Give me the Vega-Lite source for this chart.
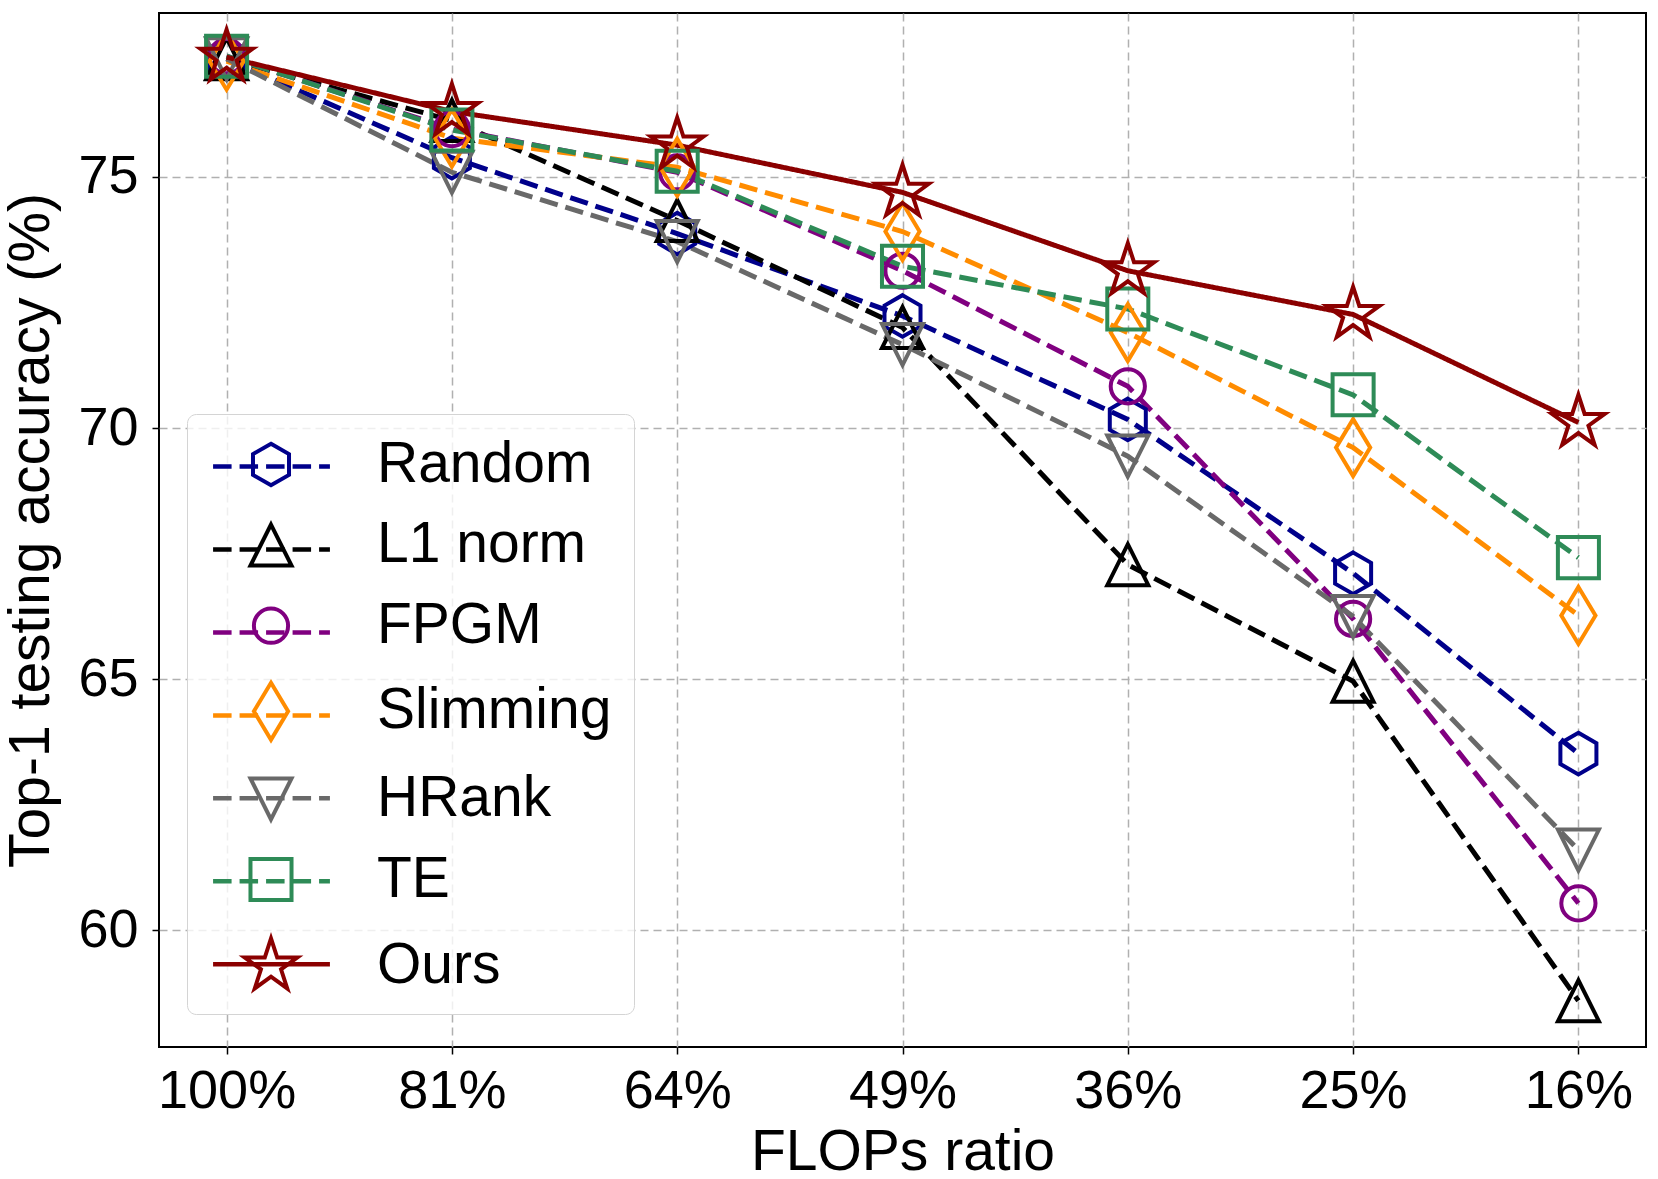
{
  "$schema": "https://vega.github.io/schema/vega-lite/v6.json",
  "width": 1487,
  "height": 1034,
  "autosize": "none",
  "padding": {"left": 159, "top": 13, "right": 12, "bottom": 132},
  "background": "white",
  "config": {
    "font": "Liberation Sans",
    "view": {"stroke": "black", "strokeWidth": 2},
    "axis": {
      "domain": false,
      "grid": true,
      "gridColor": "#b0b0b0",
      "gridDash": [8, 5],
      "gridWidth": 1.5,
      "tickColor": "black",
      "tickWidth": 1.5,
      "tickSize": 7,
      "labelColor": "black",
      "labelFont": "Liberation Sans",
      "labelFontSize": 54,
      "titleFont": "Liberation Sans",
      "titleFontSize": 57,
      "titleFontWeight": "normal",
      "titleColor": "black"
    }
  },
  "data": {
    "values": [
      {"method": "Random", "ratio": "100%", "acc": 77.35},
      {"method": "Random", "ratio": "81%", "acc": 75.38},
      {"method": "Random", "ratio": "64%", "acc": 73.87},
      {"method": "Random", "ratio": "49%", "acc": 72.23},
      {"method": "Random", "ratio": "36%", "acc": 70.17},
      {"method": "Random", "ratio": "25%", "acc": 67.11},
      {"method": "Random", "ratio": "16%", "acc": 63.52},
      {"method": "L1 norm", "ratio": "100%", "acc": 77.35},
      {"method": "L1 norm", "ratio": "81%", "acc": 76.12},
      {"method": "L1 norm", "ratio": "64%", "acc": 74.13},
      {"method": "L1 norm", "ratio": "49%", "acc": 72.0},
      {"method": "L1 norm", "ratio": "36%", "acc": 67.28},
      {"method": "L1 norm", "ratio": "25%", "acc": 64.96},
      {"method": "L1 norm", "ratio": "16%", "acc": 58.6},
      {"method": "FPGM", "ratio": "100%", "acc": 77.4},
      {"method": "FPGM", "ratio": "81%", "acc": 75.95},
      {"method": "FPGM", "ratio": "64%", "acc": 75.09},
      {"method": "FPGM", "ratio": "49%", "acc": 73.13},
      {"method": "FPGM", "ratio": "36%", "acc": 70.83},
      {"method": "FPGM", "ratio": "25%", "acc": 66.2},
      {"method": "FPGM", "ratio": "16%", "acc": 60.54},
      {"method": "Slimming", "ratio": "100%", "acc": 77.3},
      {"method": "Slimming", "ratio": "81%", "acc": 75.77},
      {"method": "Slimming", "ratio": "64%", "acc": 75.19},
      {"method": "Slimming", "ratio": "49%", "acc": 73.91},
      {"method": "Slimming", "ratio": "36%", "acc": 71.9},
      {"method": "Slimming", "ratio": "25%", "acc": 69.61},
      {"method": "Slimming", "ratio": "16%", "acc": 66.27},
      {"method": "HRank", "ratio": "100%", "acc": 77.35},
      {"method": "HRank", "ratio": "81%", "acc": 75.09},
      {"method": "HRank", "ratio": "64%", "acc": 73.71},
      {"method": "HRank", "ratio": "49%", "acc": 71.66},
      {"method": "HRank", "ratio": "36%", "acc": 69.44},
      {"method": "HRank", "ratio": "25%", "acc": 66.25},
      {"method": "HRank", "ratio": "16%", "acc": 61.6},
      {"method": "TE", "ratio": "100%", "acc": 77.4},
      {"method": "TE", "ratio": "81%", "acc": 75.93},
      {"method": "TE", "ratio": "64%", "acc": 75.11},
      {"method": "TE", "ratio": "49%", "acc": 73.22},
      {"method": "TE", "ratio": "36%", "acc": 72.37},
      {"method": "TE", "ratio": "25%", "acc": 70.66},
      {"method": "TE", "ratio": "16%", "acc": 67.42},
      {"method": "Ours", "ratio": "100%", "acc": 77.38},
      {"method": "Ours", "ratio": "81%", "acc": 76.3},
      {"method": "Ours", "ratio": "64%", "acc": 75.63},
      {"method": "Ours", "ratio": "49%", "acc": 74.69},
      {"method": "Ours", "ratio": "36%", "acc": 73.13},
      {"method": "Ours", "ratio": "25%", "acc": 72.26},
      {"method": "Ours", "ratio": "16%", "acc": 70.11}
    ]
  },
  "layer": [
    {
      "mark": {"type": "line", "strokeWidth": 5},
      "encoding": {
        "x": {
          "field": "ratio", "type": "ordinal",
          "sort": ["100%", "81%", "64%", "49%", "36%", "25%", "16%"],
          "scale": {"type": "point", "padding": 0.3},
          "axis": {"title": "FLOPs ratio", "labelAngle": 0, "labelPadding": 10, "titlePadding": 6}
        },
        "y": {
          "field": "acc", "type": "quantitative",
          "scale": {"domain": [57.68, 78.26], "nice": false, "zero": false},
          "axis": {"title": "Top-1 testing accuracy (%)", "values": [60, 65, 70, 75], "labelPadding": 14, "titlePadding": 17}
        },
        "color": {
          "field": "method", "type": "nominal",
          "scale": {
            "domain": ["Random", "L1 norm", "FPGM", "Slimming", "HRank", "TE", "Ours"],
            "range": ["#00008B", "#000000", "#800080", "#FF8C00", "#696969", "#2E8B57", "#8B0000"]
          },
          "legend": {
            "orient": "none", "legendX": 28, "legendY": 401, "title": null,
            "padding": 21.5, "rowPadding": 23.96, "symbolOffset": 32, "labelOffset": 75.5, "labelLimit": 0,
            "symbolType": "M-2.05,0H2.05", "symbolSize": 3249, "symbolStrokeWidth": 4.5,
            "labelFontSize": 57, "labelFont": "Liberation Sans", "labelOpacity": 0,
            "strokeColor": "#d4d4d4", "fillColor": "rgba(255,255,255,0.8)", "cornerRadius": 9
          }
        },
        "strokeDash": {
          "field": "method", "type": "nominal",
          "scale": {
            "domain": ["Random", "L1 norm", "FPGM", "Slimming", "HRank", "TE", "Ours"],
            "range": [[18.5, 8], [18.5, 8], [18.5, 8], [18.5, 8], [18.5, 8], [18.5, 8], [1, 0]]
          },
          "legend": {
            "orient": "none", "legendX": 28, "legendY": 401, "title": null,
            "padding": 21.5, "rowPadding": 23.96, "symbolOffset": 32, "labelOffset": 75.5, "labelLimit": 0,
            "symbolType": "M-2.05,0H2.05", "symbolSize": 3249, "symbolStrokeWidth": 4.5,
            "labelFontSize": 57, "labelFont": "Liberation Sans", "labelOpacity": 0,
            "strokeColor": "#d4d4d4", "fillColor": "rgba(255,255,255,0.8)", "cornerRadius": 9
          }
        }
      }
    },
    {
      "mark": {"type": "point", "filled": false, "strokeWidth": 4, "size": 3249, "opacity": 1},
      "encoding": {
        "x": {"field": "ratio", "type": "ordinal", "sort": ["100%", "81%", "64%", "49%", "36%", "25%", "16%"]},
        "y": {"field": "acc", "type": "quantitative"},
        "color": {
          "field": "method", "type": "nominal",
          "scale": {
            "domain": ["Random", "L1 norm", "FPGM", "Slimming", "HRank", "TE", "Ours"],
            "range": ["#00008B", "#000000", "#800080", "#FF8C00", "#696969", "#2E8B57", "#8B0000"]
          },
          "legend": {
            "orient": "none", "legendX": 28, "legendY": 399.5, "title": null,
            "padding": 21.5, "rowPadding": 20.6, "symbolOffset": 32, "labelOffset": 75.5, "labelLimit": 0,
            "symbolSize": 3249, "symbolStrokeWidth": 4,
            "labelFontSize": 57, "labelFont": "Liberation Sans", "labelColor": "black"
          }
        },
        "shape": {
          "field": "method", "type": "nominal",
          "scale": {
            "domain": ["Random", "L1 norm", "FPGM", "Slimming", "HRank", "TE", "Ours"],
            "range": [
              "M0,-0.73L0.632,-0.365L0.632,0.365L0,0.73L-0.632,0.365L-0.632,-0.365Z",
              "M0,-0.72L0.72,0.72L-0.72,0.72Z",
              "M0.6,0A0.6,0.6,0,1,1,-0.6,0A0.6,0.6,0,1,1,0.6,0Z",
              "M0,-1L0.6,0L0,1L-0.6,0Z",
              "M0,0.72L0.72,-0.72L-0.72,-0.72Z",
              "M-0.72,-0.72H0.72V0.72H-0.72Z",
              "M0,-0.97L0.218,-0.3L0.922,-0.3L0.352,0.115L0.57,0.785L0,0.371L-0.57,0.785L-0.352,0.115L-0.922,-0.3L-0.218,-0.3Z"
            ]
          },
          "legend": {
            "orient": "none", "legendX": 28, "legendY": 399.5, "title": null,
            "padding": 21.5, "rowPadding": 20.6, "symbolOffset": 32, "labelOffset": 75.5, "labelLimit": 0,
            "symbolSize": 3249, "symbolStrokeWidth": 4,
            "labelFontSize": 57, "labelFont": "Liberation Sans", "labelColor": "black"
          }
        }
      }
    }
  ],
  "resolve": {"scale": {"color": "independent", "strokeDash": "independent", "shape": "independent"}}
}
